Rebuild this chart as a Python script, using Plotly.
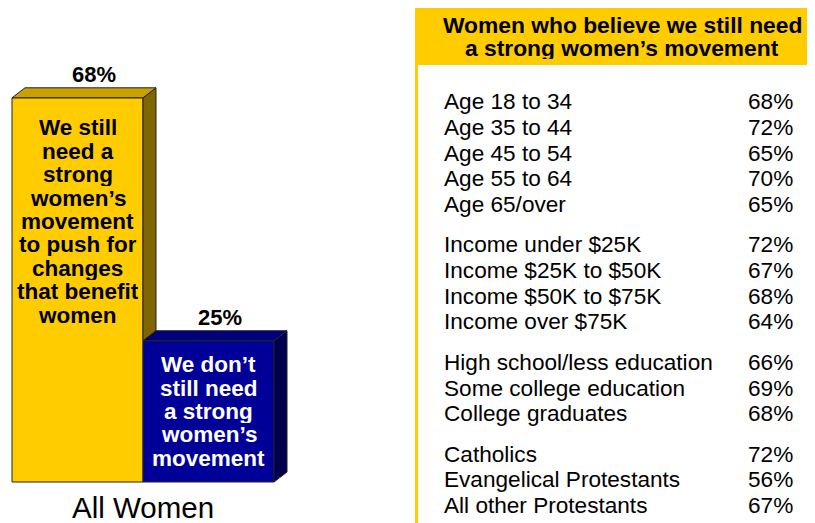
import plotly.graph_objects as go

# ---------------- data ----------------
response_labels = ["We still need a strong women’s movement to push for changes that benefit women",
                   "We don’t still need a strong women’s movement"]
response_values = [68, 25]
bar_text_lines = [
    ["We still", "need a", "strong", "women’s", "movement", "to push for", "changes", "that benefit", "women"],
    ["We don’t", "still need", "a strong", "women’s", "movement"],
]
category_label = "All Women"

table_title = ["Women who believe we still need", "a strong women’s movement"]
age_labels = ["Age 18 to 34", "Age 35 to 44", "Age 45 to 54", "Age 55 to 64", "Age 65/over"]
age_values = [68, 72, 65, 70, 65]
income_labels = ["Income under $25K", "Income $25K to $50K", "Income $50K to $75K", "Income over $75K"]
income_values = [72, 67, 68, 64]
education_labels = ["High school/less education", "Some college education", "College graduates"]
education_values = [66, 69, 68]
religion_labels = ["Catholics", "Evangelical Protestants", "All other Protestants"]
religion_values = [72, 56, 67]

# ---------------- styling ----------------
W, H = 815, 523
OFF = 8  # page body margin offset in the browser
FONT = "Arial, Liberation Sans, Helvetica, sans-serif"
front_colors = ["#FFCC00", "#000099"]
top_colors = ["#C9A000", "#00007A"]
side_colors = ["#806600", "#00004C"]
text_colors = ["#000000", "#FFFFFF"]
edge = "#222222"
X_PX = 131.0      # px per x unit
Y_PX = 5.65       # px per y unit
DX = 13 / X_PX    # depth offsets (data units)
DY = 10 / Y_PX
left_px = 12 - OFF
base_px = 482 - OFF
x_range = [-0.5 - left_px / X_PX, -0.5 - left_px / X_PX + W / X_PX]
y_range = [-(H - base_px) / Y_PX, base_px / Y_PX]

fig = go.Figure()
xs = list(range(len(response_values)))

fig.add_trace(go.Bar(
    x=xs, y=response_values, width=1,
    marker=dict(color=front_colors, line=dict(color=edge, width=1)),
    hovertext=response_labels, hoverinfo="text", showlegend=False,
))

# 3D top and side faces derived from the values
for i, v in enumerate(response_values):
    bottom = min(response_values[i + 1], v) if i + 1 < len(response_values) else 0
    side_x = [i + 0.5, i + 0.5 + DX, i + 0.5 + DX, i + 0.5, i + 0.5]
    side_y = [v, v + DY, bottom + DY, bottom, v]
    fig.add_trace(go.Scatter(x=side_x, y=side_y, mode="lines", fill="toself",
                             fillcolor=side_colors[i], line=dict(color=edge, width=1),
                             hoverinfo="skip", showlegend=False))
    top_x = [i - 0.5, i - 0.5 + DX, i + 0.5 + DX, i + 0.5, i - 0.5]
    top_y = [v, v + DY, v + DY, v, v]
    fig.add_trace(go.Scatter(x=top_x, y=top_y, mode="lines", fill="toself",
                             fillcolor=top_colors[i], line=dict(color=edge, width=1),
                             hoverinfo="skip", showlegend=False))

annotations = []
line_offsets = [30, 24]
value_xshift = [16, 11]
for i, v in enumerate(response_values):
    for k, line in enumerate(bar_text_lines[i]):
        annotations.append(dict(x=i, y=v, xref="x", yref="y", text=f"<b>{line}</b>",
                                showarrow=False, yanchor="middle", height=23,
                                yshift=-(line_offsets[i] + k * 23.4),
                                font=dict(family=FONT, size=22.5, color=text_colors[i])))
    annotations.append(dict(x=i, y=v, xref="x", yref="y", text=f"<b>{v}%</b>",
                            showarrow=False, yanchor="middle", yshift=23, xshift=value_xshift[i],
                            font=dict(family=FONT, size=22, color="#000000")))

annotations.append(dict(x=0.5, y=0, xref="x", yref="y", text=category_label, showarrow=False,
                        yanchor="middle", yshift=-25,
                        font=dict(family=FONT, size=29.5, color="#000000")))


def px_x(p):
    return (p - OFF) / W


def px_y(p):
    return 1 - (p - OFF) / H


# table header and border
shapes = [
    dict(type="rect", xref="paper", yref="paper", x0=px_x(415), x1=1.0, y0=px_y(65), y1=px_y(8),
         fillcolor="#FFCC00", line=dict(width=0), layer="below"),
    dict(type="rect", xref="paper", yref="paper", x0=px_x(415), x1=px_x(418), y0=0.0, y1=px_y(8),
         fillcolor="#FFCC00", line=dict(width=0), layer="below"),
]
for k, line in enumerate(table_title):
    annotations.append(dict(x=px_x(622), y=px_y(25 + k * 23), xref="paper", yref="paper",
                            text=f"<b>{line}</b>", showarrow=False, xanchor="center", yanchor="middle",
                            height=22,
                            font=dict(family=FONT, size=22.8, color="#000000")))

groups = [(age_labels, age_values), (income_labels, income_values),
          (education_labels, education_values), (religion_labels, religion_values)]
y = 102.0
for g, (labels, values) in enumerate(groups):
    if g > 0:
        y += 15.0
    for lab, val in zip(labels, values):
        annotations.append(dict(x=px_x(442), y=px_y(y), xref="paper", yref="paper", text=lab,
                                showarrow=False, xanchor="left", yanchor="middle",
                                font=dict(family=FONT, size=22.6, color="#000000")))
        annotations.append(dict(x=px_x(795), y=px_y(y), xref="paper", yref="paper", text=f"{val}%",
                                showarrow=False, xanchor="right", yanchor="middle",
                                font=dict(family=FONT, size=22.6, color="#000000")))
        y += 25.6

fig.update_layout(
    width=W, height=H, autosize=False,
    margin=dict(l=0, r=0, t=0, b=0),
    paper_bgcolor="white", plot_bgcolor="white",
    xaxis=dict(range=x_range, visible=False, fixedrange=True),
    yaxis=dict(range=y_range, visible=False, fixedrange=True),
    annotations=annotations, shapes=shapes,
    showlegend=False,
)

fig.write_html("out.html")
